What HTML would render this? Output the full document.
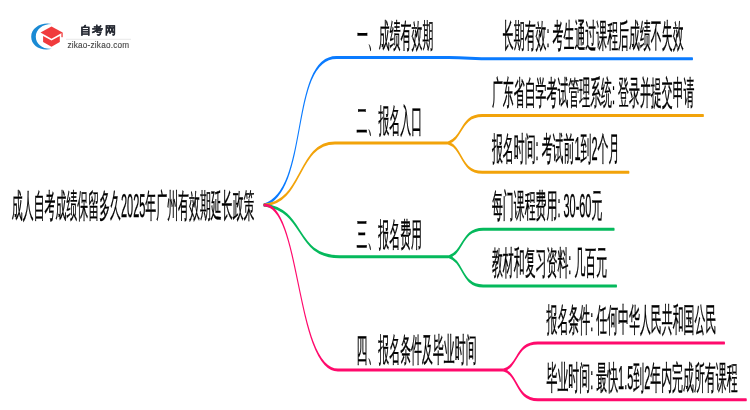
<!DOCTYPE html>
<html><head><meta charset="utf-8"><style>
html,body{margin:0;padding:0;background:#fff;width:750px;height:410px;overflow:hidden}
svg{position:absolute;left:0;top:0}
.map text{font-family:"Liberation Sans",sans-serif;font-size:33px;fill:#000;stroke:#000;stroke-width:0.4px;text-rendering:geometricPrecision}
.map path{fill:none;stroke-width:3;stroke-linecap:round;stroke-linejoin:round}
.txt,.logo{will-change:transform}
.logo text{font-family:"Liberation Sans",sans-serif}
</style></head><body>
<svg class="map" width="750" height="410" viewBox="0 0 2266.48 410" preserveAspectRatio="none">
<path d="M797.80,205.00 C936.81,190.60 873.65,57.50 1016.59,57.50 L1356.87,57.50" stroke="#0a7bff"/>
<path d="M797.80,205.00 C916.26,203.00 897.53,142.90 1012.36,142.90 L1352.94,142.90" stroke="#f2a30a"/>
<path d="M797.80,205.00 C927.45,210.30 887.86,256.70 1025.96,256.70 L1355.66,256.70" stroke="#05b95c"/>
<path d="M797.80,205.00 C909.92,204.20 892.99,370.10 1021.13,370.10 L1520.96,370.10" stroke="#ff0a6c"/>
<path d="M1354.45,142.90 C1399.78,137.90 1390.71,115.60 1457.20,115.60 L2125.66,115.60" stroke="#f2a30a"/>
<path d="M1354.45,142.90 C1399.78,147.90 1390.71,172.30 1457.20,172.30 L1900.52,172.30" stroke="#f2a30a"/>
<path d="M1357.17,256.70 C1402.50,251.70 1393.43,229.20 1459.92,229.20 L1855.80,229.20" stroke="#05b95c"/>
<path d="M1357.17,256.70 C1402.50,261.70 1393.43,286.00 1459.92,286.00 L1863.05,286.00" stroke="#05b95c"/>
<path d="M1522.47,370.10 C1567.80,365.10 1558.74,343.00 1625.22,343.00 L2189.42,343.00" stroke="#ff0a6c"/>
<path d="M1522.47,370.10 C1567.80,375.10 1558.74,399.80 1625.22,399.80 L2255.30,399.80" stroke="#ff0a6c"/>
<path d="M1356.87,57.5 C1414.29,57.5 1426.37,58.8 1486.81,58.8 L2092.72,58.8" stroke="#0a7bff"/>
</svg>
<svg class="map txt" width="750" height="410" viewBox="0 0 2266.48 410" preserveAspectRatio="none">
<text x="35.78" y="217.40">成人自考成绩保留多久2025年广州有效期延长政策</text>
<text x="1078.54" y="47.00">一、成绩有效期</text>
<text x="1519.57" y="46.80">长期有效: 考生通过课程后成绩不失效</text>
<text x="1077.64" y="132.20">二、报名入口</text>
<text x="1486.51" y="103.90">广东省自学考试管理系统: 登录并提交申请</text>
<text x="1486.51" y="159.80">报名时间: 考试前1到2个月</text>
<text x="1077.34" y="245.90">三、报名费用</text>
<text x="1486.51" y="217.00">每门课程费用: 30-60元</text>
<text x="1486.51" y="274.20">教材和复习资料: 几百元</text>
<text x="1077.34" y="360.50">四、报名条件及毕业时间</text>
<text x="1651.51" y="330.70">报名条件: 任何中华人民共和国公民</text>
<text x="1651.51" y="388.80">毕业时间: 最快1.5到2年内完成所有课程</text>
</svg>
<svg class="logo" width="750" height="410" viewBox="0 0 750 410">
<path d="M51.8,24.1 C42,21.8 31.2,27.5 31.2,36.8 C31.2,46 41,51.5 51.8,48.8 C42.5,49.5 35.8,44 35.8,36.8 C35.8,29.5 42.5,24 51.8,24.1 Z" fill="#1a8ad4"/>
<path d="M40.5,32.6 L51.5,26.4 L62.6,32.6 L51.5,38.7 Z" fill="#f03b3d"/>
<path d="M43.1,35.9 L51.5,40.6 L59.8,35.9 L59.8,42 L51.5,46.8 L43.1,42 Z" fill="#f03b3d"/>
<rect x="61.4" y="32.6" width="1.3" height="4.6" fill="#f03b3d"/>
<line x1="66" y1="39.3" x2="131" y2="39.3" stroke="#e3e3e3" stroke-width="0.8"/>
<text x="80.3" y="33.9" font-size="11.2" font-weight="bold" fill="#262a33" stroke="#262a33" stroke-width="0.2" letter-spacing="1.2">自考网</text>
<text x="67.5" y="47.5" font-size="8.2" fill="#444" stroke="#444" stroke-width="0.12" letter-spacing="0.2">zikao-zikao.com</text>
</svg>
</body></html>
